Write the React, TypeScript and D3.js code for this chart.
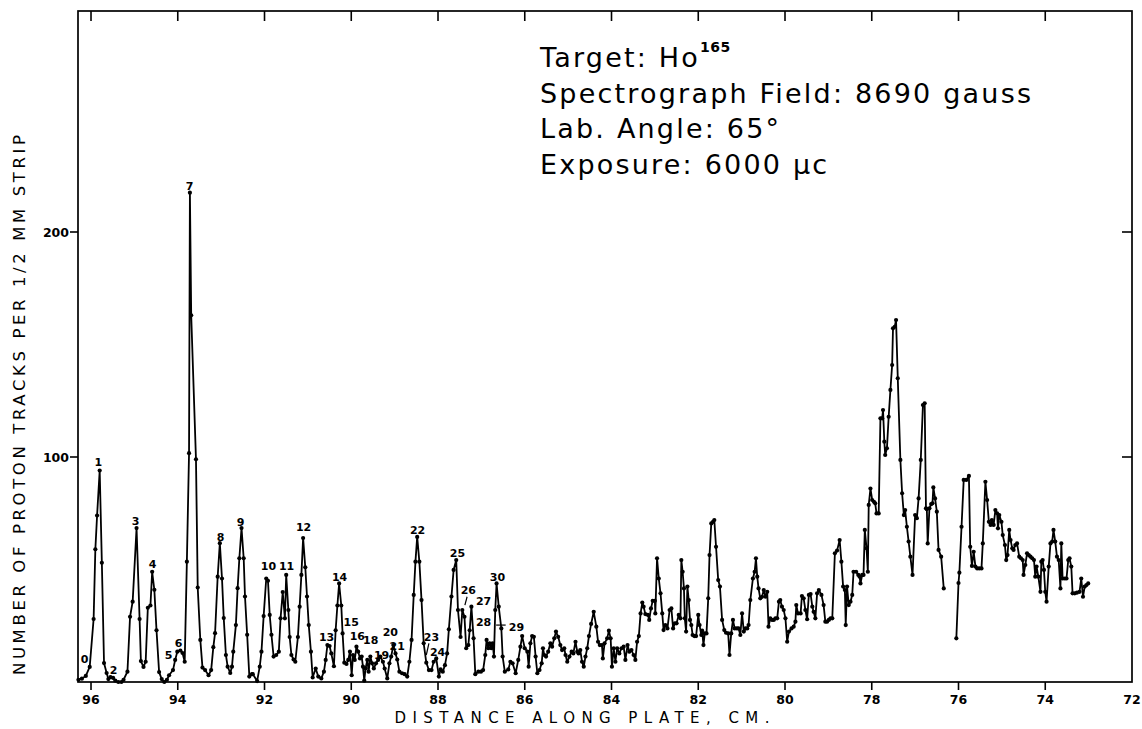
import React from "react";
import * as d3 from "d3";

type Pt = [number, number];

// distance along plate (cm), proton tracks per 1/2 mm strip
const peaks0to9: Pt[] = [
  [96.29, 1], [96.21, 1.5], [96.12, 2.7], [96.03, 6.7], [95.94, 28], [95.9, 59], [95.86, 74], [95.8, 94],
  [95.75, 53], [95.7, 8.4], [95.64, 4], [95.6, 1.3], [95.55, 2.2], [95.49, 1.8], [95.44, 0.6], [95.37, 0],
  [95.3, 0], [95.25, 1], [95.16, 4.6], [95.1, 29], [95.04, 35.7], [94.95, 68.4], [94.88, 28], [94.85, 9.3],
  [94.79, 6.7], [94.74, 9], [94.69, 33], [94.63, 34], [94.59, 49], [94.54, 41], [94.49, 23], [94.43, 4.4],
  [94.37, 1.3], [94.31, 0], [94.25, 1], [94.2, 3], [94.11, 5.3], [94.06, 9.8], [94.01, 13.5], [93.94, 14],
  [93.89, 12.9], [93.84, 9], [93.79, 53.5], [93.74, 101.7], [93.72, 217.5], [93.69, 163], [93.58, 99],
  [93.54, 42], [93.48, 18.7], [93.43, 6.4], [93.37, 5.3], [93.29, 3], [93.23, 5.3], [93.18, 15.5],
  [93.14, 21.7], [93.08, 46.8], [93.03, 61.7], [92.98, 46], [92.94, 28.4], [92.89, 12], [92.85, 6.8],
  [92.79, 4], [92.75, 6.8], [92.72, 13.5], [92.66, 25.3], [92.62, 41.7], [92.58, 55], [92.53, 68.4],
  [92.48, 55], [92.45, 38], [92.4, 21], [92.35, 2.4], [92.29, 3.5]
];

const peaks10to22: Pt[] = [
  [92.27, 3.5], [92.17, 0.4], [92.11, 6.8], [92.07, 13.5], [92.02, 29.3], [91.96, 46], [91.92, 45],
  [91.88, 29.8], [91.84, 21], [91.79, 11.3], [91.73, 12], [91.67, 13.5], [91.63, 28.3], [91.58, 40],
  [91.53, 28.3], [91.5, 47.6], [91.45, 32], [91.42, 20], [91.38, 12], [91.33, 10], [91.29, 9], [91.23, 20],
  [91.19, 33.5], [91.15, 47.6], [91.11, 64], [91.06, 51], [91.02, 38], [90.98, 25.3], [90.93, 13.5],
  [90.89, 2], [90.82, 6], [90.76, 2.4], [90.69, 1.6], [90.63, 4.6], [90.59, 9.8], [90.55, 16.4], [90.5, 16],
  [90.46, 12.7], [90.4, 7], [90.36, 23], [90.32, 34], [90.28, 43.8], [90.23, 34], [90.2, 21.6], [90.16, 8.6],
  [90.11, 8], [90.07, 9.8], [90.03, 13.5], [89.99, 3], [89.96, 12], [89.92, 9.8], [89.88, 15.7],
  [89.84, 13.5], [89.8, 10.5], [89.76, 11.3], [89.73, 6.8], [89.7, 0.6], [89.67, 6], [89.63, 9.8],
  [89.6, 4.6], [89.56, 11.3], [89.52, 8.3], [89.48, 6], [89.43, 8.3], [89.38, 9.8], [89.33, 11.3],
  [89.27, 9], [89.23, 6], [89.17, 1.6], [89.12, 8.3], [89.08, 11.3], [89.03, 16.4], [88.98, 12.7],
  [88.94, 10], [88.89, 4.6], [88.83, 3.9], [88.77, 3.5], [88.71, 2.4], [88.66, 9], [88.61, 18.7],
  [88.56, 38.7], [88.52, 53.5], [88.48, 64.5], [88.43, 53.5], [88.38, 36.4], [88.33, 17.2]
];

const peaks23to30: Pt[] = [
  [88.27, 8.6], [88.21, 5.3], [88.15, 5.3], [88.1, 9], [88.04, 10.5], [87.98, 2.4], [87.94, 5.6],
  [87.89, 4.6], [87.84, 7.5], [87.79, 12.7], [87.75, 23.4], [87.69, 38], [87.64, 49.8], [87.58, 54.2],
  [87.54, 32], [87.48, 20], [87.44, 32], [87.39, 29], [87.35, 15], [87.3, 16.4], [87.27, 23], [87.23, 33.5],
  [87.18, 19.4], [87.14, 3.5], [87.07, 4.6], [87.01, 4.6], [86.96, 5.3], [86.91, 12], [86.88, 18.7],
  [86.84, 15], [86.81, 17.2], [86.77, 15], [86.74, 17.2], [86.71, 11.3], [86.68, 32], [86.65, 43.8],
  [86.6, 33.5], [86.54, 23.8], [86.51, 11.3], [86.46, 4.6], [86.38, 5.6], [86.33, 9], [86.28, 8.3],
  [86.21, 3.9], [86.15, 9.8], [86.1, 15.7], [86.06, 20.4], [86.0, 15], [85.94, 13.5], [85.91, 6.8],
  [85.87, 17.2], [85.83, 20.4], [85.79, 20.1], [85.75, 11.3], [85.71, 3.9], [85.66, 5.3], [85.61, 8.3],
  [85.58, 15], [85.55, 12], [85.51, 11.3], [85.46, 13.5], [85.41, 17.2], [85.37, 15.7], [85.32, 19.4],
  [85.28, 22.4], [85.23, 20.1], [85.18, 16.4], [85.14, 14.2], [85.09, 15], [85.06, 12], [85.02, 9],
  [84.97, 11.3], [84.92, 13.5], [84.88, 12.7], [84.83, 17.9], [84.79, 13.5], [84.76, 12.7], [84.72, 14.2],
  [84.68, 9], [84.64, 6.8], [84.6, 11.3], [84.56, 15], [84.52, 20.4], [84.47, 25.8], [84.41, 31.2],
  [84.35, 24.6], [84.31, 17.9], [84.27, 16.4]
];

const mid84to80: Pt[] = [
  [84.22, 16.4], [84.2, 10.5], [84.16, 17.2], [84.1, 19.4], [84.06, 22.8], [84.02, 19.4], [83.99, 6.8],
  [83.95, 15], [83.91, 9], [83.87, 15], [83.82, 12.7], [83.77, 15], [83.72, 15.7], [83.68, 9.8],
  [83.63, 16.4], [83.59, 13.5], [83.54, 14.2], [83.49, 12], [83.45, 9.8], [83.41, 17.9], [83.37, 20.4],
  [83.33, 30.5], [83.29, 35.3], [83.26, 33.5], [83.22, 30.2], [83.16, 29.8], [83.13, 27.6], [83.09, 32.7],
  [83.05, 36.1], [83.0, 36.1], [82.99, 30.5], [82.95, 55], [82.91, 46], [82.87, 39.4], [82.83, 30.5],
  [82.8, 23.1], [82.76, 25.3], [82.71, 23.8], [82.66, 32], [82.62, 32.7], [82.58, 23.8], [82.54, 26.1],
  [82.5, 26.1], [82.45, 29.8], [82.41, 28.3], [82.39, 54.2], [82.36, 49], [82.33, 41.6], [82.31, 28.3],
  [82.28, 22.4], [82.25, 42.4], [82.22, 36.4], [82.19, 27.6], [82.16, 25.3], [82.13, 20.9], [82.09, 20.4],
  [82.05, 20.4], [82.0, 29.8], [81.97, 25.3], [81.93, 20.9], [81.91, 22.8], [81.88, 16.4], [81.85, 21.6],
  [81.81, 21.6], [81.77, 37.2], [81.74, 56.4], [81.7, 70.5], [81.66, 71.2], [81.63, 72], [81.59, 60.1],
  [81.54, 45.3], [81.5, 42.4], [81.45, 27.6], [81.4, 23.1], [81.36, 21.9], [81.31, 21.6], [81.28, 12],
  [81.24, 21.6], [81.2, 27.6], [81.16, 23.8], [81.11, 23.8], [81.07, 23.8], [81.03, 20.9], [80.99, 30.5],
  [80.95, 22.4], [80.91, 23.8], [80.87, 23.8], [80.84, 25.3], [80.8, 36.4], [80.74, 46], [80.7, 49],
  [80.67, 55], [80.64, 46.8], [80.61, 41.6], [80.57, 37.2], [80.53, 37.9], [80.49, 40.9], [80.45, 37.9],
  [80.41, 40.1], [80.38, 24.6], [80.34, 28.3], [80.3, 27.6], [80.26, 27.6], [80.22, 28.3], [80.18, 28.3],
  [80.14, 35.7], [80.11, 36.4], [80.07, 33.5], [80.03, 32], [79.99, 28.3]
];

const broad80to76: Pt[] = [
  [79.95, 17.9], [79.91, 22.4], [79.85, 23.8], [79.8, 24.6], [79.76, 26.8], [79.74, 34.2], [79.7, 30.5],
  [79.64, 30.5], [79.61, 38.2], [79.57, 37.2], [79.53, 32], [79.49, 27.9], [79.45, 38.7], [79.41, 39.1],
  [79.37, 33.5], [79.34, 31.2], [79.3, 28.3], [79.26, 39.4], [79.22, 40.9], [79.16, 38.7], [79.11, 34.2],
  [79.07, 26.8], [79.03, 26.8], [78.99, 27.6], [78.95, 28.3], [78.91, 28.3], [78.85, 57.2], [78.8, 58.4],
  [78.74, 63.1], [78.7, 53.5], [78.66, 42.4], [78.62, 40.9], [78.6, 25.3], [78.57, 42.4], [78.53, 34.2],
  [78.49, 35.7], [78.45, 38.7], [78.42, 49], [78.36, 49], [78.31, 47.6], [78.28, 46.8], [78.26, 43.8],
  [78.22, 47.6], [78.19, 47.6], [78.16, 67.6], [78.12, 59.4], [78.09, 49], [78.07, 78.7], [78.03, 86],
  [77.99, 80.9], [77.95, 80.1], [77.92, 79.4], [77.89, 74.9], [77.84, 74.9], [77.8, 117.2], [77.76, 117.2],
  [77.74, 120.9], [77.71, 106.8], [77.69, 100.9], [77.65, 103.9], [77.61, 117.9], [77.57, 129.8],
  [77.53, 140.9], [77.51, 157.2], [77.47, 157.9], [77.44, 160.9], [77.4, 135], [77.34, 98.7], [77.3, 83.9],
  [77.26, 74.2], [77.23, 76.4], [77.19, 69], [77.15, 62.4], [77.11, 55.7], [77.06, 47.6], [77.0, 74.2],
  [76.96, 72.8], [76.92, 81.6], [76.87, 98.7], [76.82, 123.1], [76.78, 123.9], [76.75, 77.2], [76.73, 76.8],
  [76.71, 61.6], [76.67, 77.2], [76.63, 79.1], [76.6, 79.4], [76.58, 86.5], [76.54, 81.6], [76.5, 75.7],
  [76.46, 58.7], [76.4, 55.7], [76.34, 41.6]
];

// after the break in the scan
const tail76to73: Pt[] = [
  [76.05, 19.4], [76.0, 44], [75.98, 48.6], [75.93, 69], [75.88, 89.8], [75.82, 89.8], [75.76, 91.6],
  [75.73, 60.1], [75.69, 51.6], [75.65, 57.9], [75.61, 51.3], [75.57, 50.5], [75.52, 50.5], [75.47, 50.5],
  [75.44, 61.6], [75.38, 89], [75.34, 80.9], [75.3, 71.2], [75.26, 69.8], [75.23, 72], [75.19, 69.8],
  [75.15, 76.4], [75.11, 75], [75.09, 68.3], [75.06, 74.2], [75.01, 71.2], [74.98, 65.3], [74.93, 60.9],
  [74.9, 54.2], [74.87, 56.4], [74.83, 67.6], [74.8, 63.1], [74.76, 59.4], [74.73, 58.7], [74.69, 60.9],
  [74.65, 61.6], [74.6, 55.7], [74.56, 55], [74.52, 54.2], [74.5, 47.6], [74.46, 52], [74.42, 57.2],
  [74.38, 56.4], [74.34, 55.7], [74.3, 55], [74.26, 54.2], [74.23, 46.8], [74.2, 51.3], [74.16, 46.8],
  [74.11, 40.1], [74.09, 53.5], [74.06, 54.2], [74.03, 49.8], [74.0, 40.1], [73.97, 35.7], [73.92, 51.3],
  [73.88, 61.6], [73.84, 62.4], [73.81, 67.6], [73.77, 62.4], [73.73, 55.7], [73.69, 54.2], [73.65, 41.6],
  [73.63, 61.6], [73.6, 46], [73.55, 46], [73.51, 46], [73.47, 54.2], [73.44, 55], [73.4, 51.3],
  [73.37, 39.4], [73.32, 39.4], [73.27, 39.7], [73.21, 40.1], [73.17, 46], [73.13, 37.9], [73.09, 42.4],
  [73.05, 43.1], [73.01, 43.8]
];

const xTicks = [96, 94, 92, 90, 88, 86, 84, 82, 80, 78, 76, 74, 72];
const yTicks = [100, 200];

// peak numbers: [label, distance, count at text baseline]
const peakLabels: [string, number, number][] = [
  ["0", 96.15, 8.4], ["1", 95.83, 96], ["2", 95.48, 3.6], ["3", 94.97, 69.8], ["4", 94.58, 50.7],
  ["5", 94.21, 10.2], ["6", 93.98, 15.6], ["7", 93.73, 218.7], ["8", 93.01, 62.7], ["9", 92.55, 69.3],
  ["10", 91.91, 49.8], ["11", 91.49, 49.8], ["12", 91.1, 67.1], ["13", 90.57, 18.2], ["14", 90.27, 44.9],
  ["15", 90.0, 24.9], ["16", 89.86, 18.7], ["18", 89.55, 17], ["19", 89.3, 10.3], ["20", 89.1, 20.4],
  ["21", 88.94, 14.2], ["22", 88.47, 65.8], ["23", 88.15, 18.2], ["24", 88.01, 11.6], ["25", 87.55, 55.6],
  ["26", 87.3, 39.1], ["27", 86.95, 34.2], ["28", 86.95, 24.9], ["29", 86.19, 22.7], ["30", 86.63, 44.9]
];

const leaders: [Pt, Pt][] = [
  [[88.21, 17.2], [88.27, 12]],
  [[87.33, 37.9], [87.38, 34.2]],
  [[86.66, 25.3], [86.44, 25.3]]
];

const infoLines = ["Target: Ho", "Spectrograph Field: 8690 gauss", "Lab. Angle: 65°", "Exposure: 6000 μc"];

const W = 1142;
const H = 729;
const left = 78;
const right = 1132;
const top = 11;
const bottom = 682;

export default function App() {
  const x = d3.scaleLinear().domain([96.3, 72]).range([left, right]);
  const y = d3.scaleLinear().domain([0, 100]).range([bottom, 457]);

  const scan: (Pt | null)[] = [
    ...peaks0to9, ...peaks10to22, ...peaks23to30, ...mid84to80, ...broad80to76, null, ...tail76to73
  ];
  const line = d3
    .line<Pt | null>()
    .defined(d => d !== null)
    .x(d => x((d as Pt)[0]))
    .y(d => y((d as Pt)[1]));
  const dots = scan.filter(d => d !== null) as Pt[];

  const tickFont = "DejaVu Sans, sans-serif";

  return (
    <svg width={W} height={H} style={{ position: "absolute", left: 0, top: 0, background: "#fff" }}>
      <rect x={left} y={top} width={right - left} height={bottom - top} fill="none" stroke="#000" strokeWidth={1.7} />

      {xTicks.slice(0, -1).map(t => (
        <g key={"xt" + t}>
          <line x1={x(t)} x2={x(t)} y1={bottom} y2={bottom + 8} stroke="#000" strokeWidth={1.6} />
          <line x1={x(t)} x2={x(t)} y1={top} y2={top + 10} stroke="#000" strokeWidth={1.6} />
        </g>
      ))}
      {xTicks.map(t => (
        <text key={"xl" + t} x={x(t)} y={bottom + 22} textAnchor="middle" fontFamily={tickFont}
          fontWeight="bold" fontSize={12.5}>{t}</text>
      ))}

      {yTicks.map(t => (
        <g key={"yt" + t}>
          <line x1={left - 8} x2={left} y1={y(t)} y2={y(t)} stroke="#000" strokeWidth={1.6} />
          <line x1={right - 10} x2={right} y1={y(t)} y2={y(t)} stroke="#000" strokeWidth={1.6} />
          <text x={left - 9} y={y(t) + 4.5} textAnchor="end" fontFamily={tickFont} fontWeight="bold"
            fontSize={12.5}>{t}</text>
        </g>
      ))}

      <text x={582} y={723} textAnchor="middle" fontFamily={tickFont} fontSize={15} textLength={375}
        lengthAdjust="spacing">DISTANCE ALONG PLATE, CM.</text>
      <text transform="translate(25,405) rotate(-90)" textAnchor="middle" fontFamily={tickFont} fontSize={16.5}
        textLength={540} lengthAdjust="spacing">NUMBER OF PROTON TRACKS PER 1/2 MM STRIP</text>

      <path d={line(scan) || ""} fill="none" stroke="#000" strokeWidth={1.8} strokeLinejoin="round" />
      {dots.map((d, i) => (
        <circle key={i} cx={x(d[0])} cy={y(d[1])} r={2.1} fill="#000" />
      ))}

      {peakLabels.map(([label, px, py]) => (
        <text key={"pl" + label} x={x(px)} y={y(py)} textAnchor="middle" fontFamily={tickFont}
          fontWeight="bold" fontSize={11}>{label}</text>
      ))}
      {leaders.map((l, i) => (
        <line key={"ld" + i} x1={x(l[0][0])} y1={y(l[0][1])} x2={x(l[1][0])} y2={y(l[1][1])}
          stroke="#000" strokeWidth={1.2} />
      ))}

      <g fontFamily={tickFont} fontSize={27} letterSpacing={2.2}>
        {infoLines.map((s, i) => (
          <text key={"il" + i} x={540} y={67 + i * 35.5}>
            {s}
            {i === 0 ? (
              <tspan dy={-15} fontSize={14} fontWeight="bold" letterSpacing={0.5}>165</tspan>
            ) : null}
          </text>
        ))}
      </g>
    </svg>
  );
}
